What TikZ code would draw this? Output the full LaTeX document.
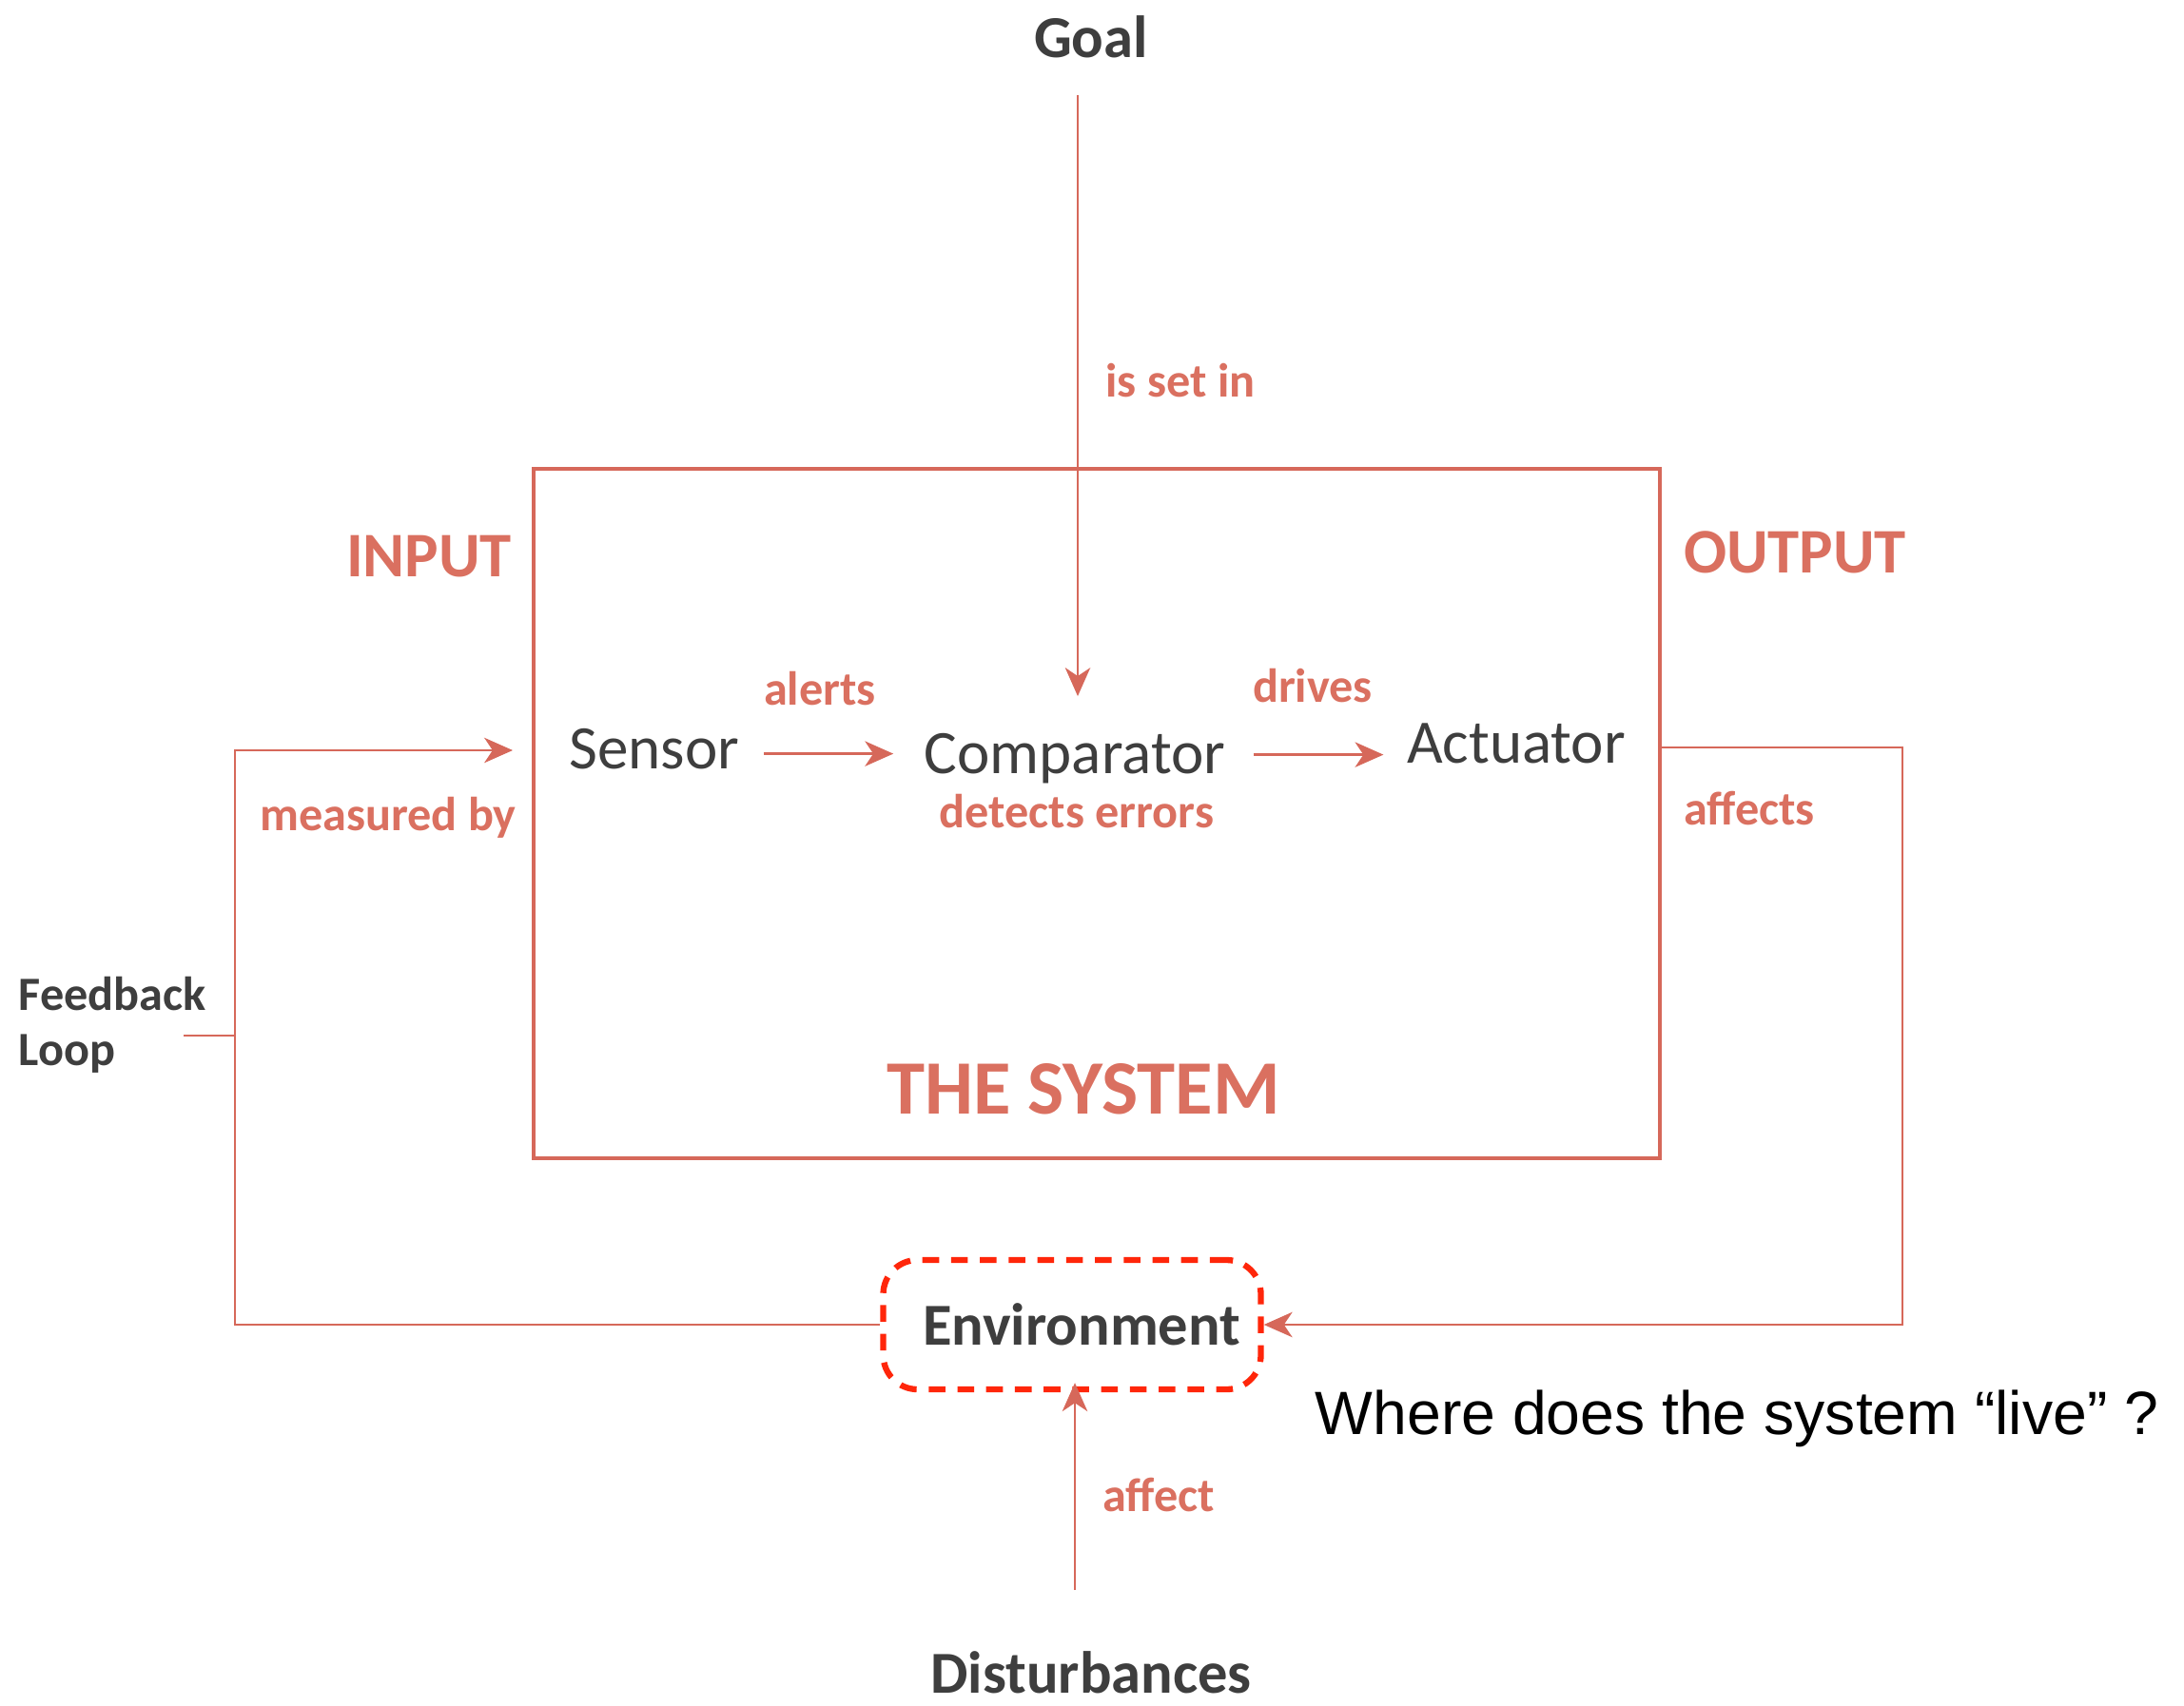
\documentclass[tikz,border=0pt]{standalone}
\usepackage{fontspec}
\setmainfont{Carlito}
\newfontfamily\questfont{Liberation Sans}
\usepackage{tikz}
\usetikzlibrary{calc}
\usetikzlibrary{positioning}
\usetikzlibrary{arrows.meta}

\definecolor{SysRed}{RGB}{214,104,90}
\definecolor{LabelRed}{RGB}{218,112,96}
\definecolor{TextGrey}{RGB}{62,62,62}
\definecolor{EnvRed}{RGB}{255,38,10}

\tikzset{
  part/.style={text=TextGrey, font=\fontsize{18.5}{22}\selectfont, inner sep=2pt, anchor=base},
  ext/.style={text=TextGrey, font=\bfseries\fontsize{17.8}{22}\selectfont},
  lbl/.style={text=LabelRed, font=\bfseries\fontsize{14.3}{17}\selectfont, anchor=base},
  hdr/.style={text=LabelRed, font=\bfseries\fontsize{19}{22}\selectfont, anchor=base},
  link/.style={draw=SysRed, line width=0.8pt, -{Stealth[length=8.5pt,width=7.5pt,inset=2.5pt]}},
  loopline/.style={draw=SysRed, line width=0.8pt},
}

\begin{document}
\begin{tikzpicture}
\useasboundingbox (0,0) rectangle (22.96,-17.93);

\node at (11.53,-8.555)[rectangle, draw=SysRed, line width=1.3pt, minimum width=11.84cm, minimum height=7.25cm] (system) {};

\node at (11.47,-0.61)[ext, anchor=base] (goal) {Goal};
\node at (11.47,-17.80)[ext, anchor=base] (dist) {Disturbances};
\node at (11.27,-13.93)[ext, draw=EnvRed, line width=1.8pt, dash pattern=on 5pt off 3.6pt, rounded corners=0.36cm, minimum width=3.97cm, minimum height=1.36cm] (env) {\hspace{0.2cm}Environment};

\node at (6.88,-8.08)[part] (sensor) {Sensor};
\node at (11.30,-8.13)[part] (comp) {Comparator};
\node at (15.94,-8.02)[part] (act) {Actuator};

\node at (4.51,-6.06)[hdr] (input) {INPUT};
\node at (18.87,-6.02)[hdr] (output) {OUTPUT};
\node at (11.39,-11.71)[hdr, font=\bfseries\fontsize{23}{27}\selectfont] (sysname) {THE SYSTEM};

\node at (12.41,-4.17)[lbl] (setin) {is set in};
\node at (8.62,-7.41)[lbl] (alerts) {alerts};
\node at (13.80,-7.38)[lbl] (drives) {drives};
\node at (11.32,-8.70)[lbl] (detects) {detects errors};
\node at (4.08,-8.73)[lbl] (measured) {measured by};
\node at (18.39,-8.67)[lbl] (affects) {affects};
\node at (12.18,-15.89)[lbl] (affect) {affect};

\node at (0.19,-10.27)[ext, font=\bfseries\fontsize{14.3}{16.5}\selectfont, align=left, anchor=north west, inner sep=0pt] (feedback) {Feedback\\Loop};

\node at (18.26,-15.08)[anchor=base, font=\questfont\fontsize{18.3}{22}\selectfont] (question) {Where does the system “live” ?};

% goal and disturbances
\coordinate (goaltop) at (11.33,-1.00);
\draw[link, shorten >=0.31cm] (goaltop) -- (goaltop |- comp.north);
\coordinate (disttop) at (11.30,-16.72);
\draw[link, shorten >=-0.1cm] (disttop) -- (disttop |- env.south);

% inside the system
\draw[link, shorten <=0.18cm, shorten >=0.25cm] ([yshift=0.07cm]sensor.mid east) -- ([yshift=0.07cm]sensor.mid east -| comp.west);
\draw[link, shorten <=0.22cm, shorten >=0.17cm] (comp.east |- act.mid east) -- (act.mid west);

% output loop
\coordinate (outcorner) at (20.00,-7.86);
\draw[link] (system.east |- outcorner) -- (outcorner) |- (env.east);

% feedback loop
\coordinate (incorner) at (2.47,-7.89);
\coordinate (inend) at (5.39,-7.89);
\draw[link] (env.west) -| (incorner) -- (inend);
\coordinate (fbtick) at (1.93,-10.89);
\draw[loopline] (fbtick) -- (fbtick -| incorner);

\end{tikzpicture}
\end{document}
